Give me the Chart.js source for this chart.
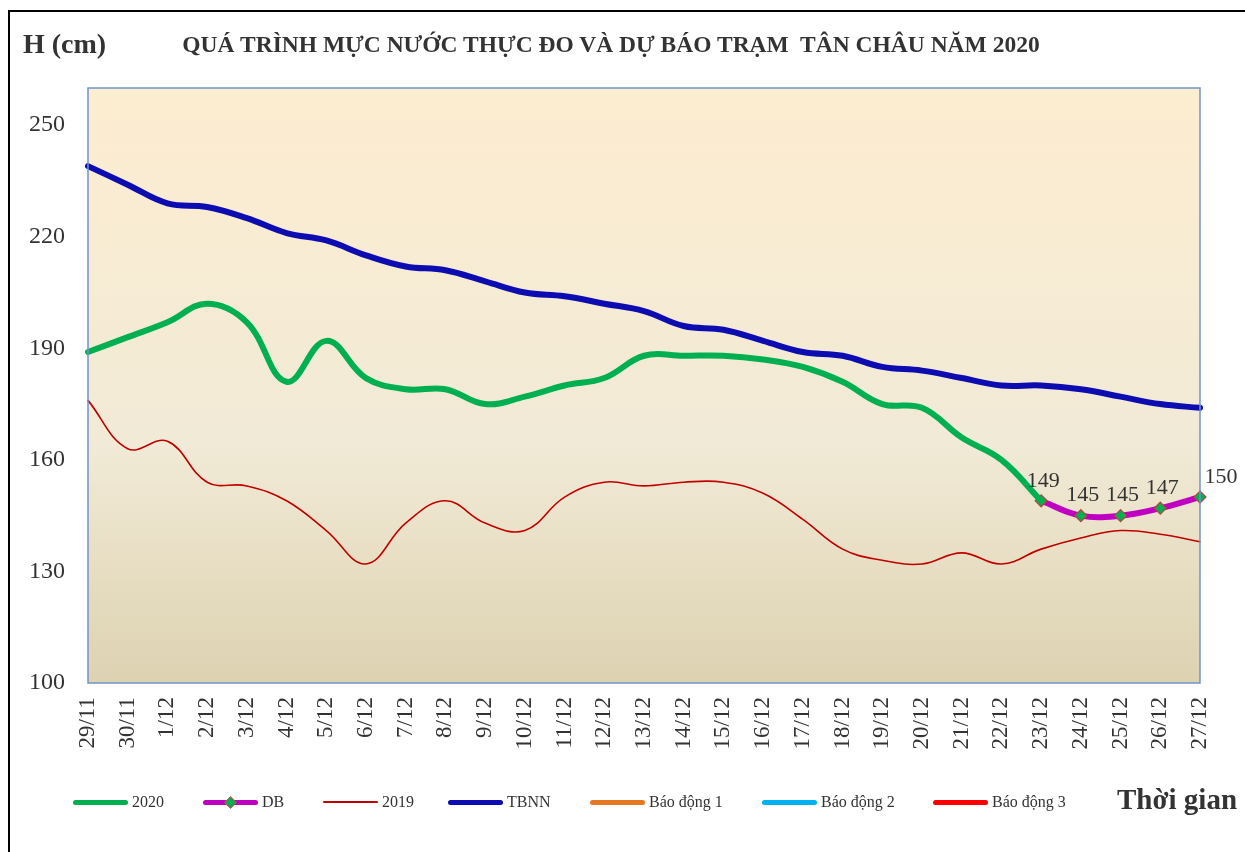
<!DOCTYPE html>
<html>
<head>
<meta charset="utf-8">
<script src="https://cdn.jsdelivr.net/npm/chart.js@4/dist/chart.umd.min.js"></script>
<style>
  body { margin: 0; background: #fff; width: 1245px; height: 852px; overflow: hidden; position: relative; font-family: 'Liberation Serif', 'Times New Roman', serif; color: #333; }
  .frame { position: absolute; left: 8px; top: 10px; width: 1400px; height: 1000px; border-left: 2px solid #000; border-top: 2px solid #000; }
  #chartBox { position: absolute; left: 0; top: 0; width: 1245px; height: 852px; }
  .unit { position: absolute; left: 23px; top: 28px; font-weight: bold; font-size: 28px; }
  .title { position: absolute; left: 0; width: 1222px; top: 31px; text-align: center; font-weight: bold; font-size: 23.5px; white-space: pre; }
  .xname { position: absolute; left: 1117px; top: 783px; font-weight: bold; font-size: 29px; }
  .legend { position: absolute; top: 791px; left: 0; height: 22px; }
  .item { position: absolute; top: 0; height: 22px; font-size: 16px; line-height: 22px; }
  .item .ln { position: absolute; left: 0; width: 55px; top: 9px; border-radius: 3px; }
  .item .mk { position: absolute; left: 23px; top: 7px; width: 7px; height: 7px; background: #00B050; border: 1px solid #C0504D; transform: rotate(45deg); }
  .item .tx { position: absolute; left: 59px; white-space: nowrap; }
</style>
</head>
<body>
<div class="frame"></div>
<div id="chartBox"><canvas id="chartTanChau"></canvas></div>
<div class="unit">H (cm)</div>
<div class="title">QUÁ TRÌNH MỰC NƯỚC THỰC ĐO VÀ DỰ BÁO TRẠM  TÂN CHÂU NĂM 2020</div>
<div class="legend" id="legend"></div>
<div class="xname">Thời gian</div>
<script>
// ngay quan trac
const dates = ['29/11', '30/11', '1/12', '2/12', '3/12', '4/12', '5/12', '6/12', '7/12', '8/12',
               '9/12', '10/12', '11/12', '12/12', '13/12', '14/12', '15/12', '16/12', '17/12', '18/12',
               '19/12', '20/12', '21/12', '22/12', '23/12', '24/12', '25/12', '26/12', '27/12']

// muc nuoc thuc do 2020
const h2020 = [189, 193, 197, 202, 197, 181, 192, 182, 179, 179,
               175, 177, 180, 182, 188, 188, 188, 187, 185, 181,
               175, 174, 166, 160, 149, null, null, null, null]
// du bao
const hForecast = [null, null, null, null, null, null, null, null, null, null,
                   null, null, null, null, null, null, null, null, null, null,
                   null, null, null, null, 149, 145, 145, 147, 150]
// nam 2019
const h2019 = [176, 163, 165, 154, 153, 149, 141, 132, 143, 149,
               143, 141, 150, 154, 153, 154, 154, 151, 144, 136,
               133, 132, 135, 132, 136, 139, 141, 140, 138]
// trung binh nhieu nam
const hTbnn = [239, 234, 229, 228, 225, 221, 219, 215, 212, 211,
               208, 205, 204, 202, 200, 196, 195, 192, 189, 188,
               185, 184, 182, 180, 180, 179, 177, 175, 174]
// bao dong (nam ngoai khung do thi)
const hAlarm1 = []
const hAlarm2 = []
const hAlarm3 = []

const yTicks = [100, 130, 160, 190, 220, 250]
const yMin = 100
const yMax = 260

const series = [
    { label: '2020', data: h2020, color: '#00B050', width: 6 },
    { label: 'DB', data: hForecast, color: '#C000C0', width: 6, marker: true },
    { label: '2019', data: h2019, color: '#C00000', width: 1.6 },
    { label: 'TBNN', data: hTbnn, color: '#0C0CB0', width: 6 },
    { label: 'Báo động 1', data: hAlarm1, color: '#E87722', width: 6 },
    { label: 'Báo động 2', data: hAlarm2, color: '#00B0F0', width: 6 },
    { label: 'Báo động 3', data: hAlarm3, color: '#FF0000', width: 6 }
]

// legend html
const legendX = [73, 203, 323, 448, 590, 762, 933]
const legend = document.getElementById('legend')
series.forEach((s, i) => {
    const el = document.createElement('div')
    el.className = 'item'
    el.style.left = legendX[i] + 'px'
    const h = s.width > 3 ? 5 : 2
    el.innerHTML = `<span class="ln" style="background:${s.color};height:${h}px;top:${11 - h / 2}px"></span>` +
        (s.marker ? '<span class="mk"></span>' : '') +
        `<span class="tx">${s.label}</span>`
    legend.appendChild(el)
})

// nen + khung vung ve
const plotBg = {
    id: 'plotBg',
    beforeDraw(chart) {
        const { ctx, chartArea: a } = chart
        const g = ctx.createLinearGradient(0, a.top, 0, a.bottom)
        g.addColorStop(0, '#FDEDD1')
        g.addColorStop(0.6, '#F1EAD6')
        g.addColorStop(1, '#DDD2B1')
        ctx.save()
        ctx.fillStyle = g
        ctx.fillRect(a.left, a.top, a.right - a.left, a.bottom - a.top)
        ctx.restore()
    },
    afterDraw(chart) {
        const { ctx, chartArea: a } = chart
        ctx.save()
        ctx.strokeStyle = '#6F95CC'
        ctx.lineWidth = 1.5
        ctx.strokeRect(a.left, a.top, a.right - a.left, a.bottom - a.top)
        ctx.restore()
    }
}

// nhan so lieu du bao
const forecastLabels = {
    id: 'forecastLabels',
    afterDatasetsDraw(chart) {
        const { ctx } = chart
        const meta = chart.getDatasetMeta(1)
        ctx.save()
        ctx.font = '22px "Liberation Serif", serif'
        ctx.fillStyle = '#333'
        ctx.textAlign = 'center'
        ctx.textBaseline = 'middle'
        meta.data.forEach((pt, i) => {
            const v = hForecast[i]
            if (v == null) return
            const last = i === hForecast.length - 1
            ctx.fillText(v, pt.x + (last ? 21 : 2), pt.y - 20)
        })
        ctx.restore()
    }
}

const ctx = document.getElementById('chartTanChau')
new Chart(ctx, {
    type: 'line',
    data: {
        labels: dates,
        datasets: series.map(s => ({
            label: s.label,
            data: s.data,
            borderColor: s.color,
            backgroundColor: s.color,
            borderWidth: s.width,
            borderCapStyle: 'round',
            borderJoinStyle: 'round',
            tension: 0.4,
            fill: false,
            pointRadius: s.marker ? 6 : 0,
            pointStyle: 'rectRot',
            pointBackgroundColor: '#00B050',
            pointBorderColor: '#B5473F',
            pointBorderWidth: 1.2,
            clip: 8
        }))
    },
    options: {
        responsive: true,
        maintainAspectRatio: false,
        animation: false,
        layout: { padding: { top: 88, right: 45, left: 0, bottom: 0 } },
        plugins: {
            legend: { display: false },
            tooltip: { enabled: false }
        },
        scales: {
            x: {
                offset: false,
                grid: { display: false, drawTicks: false },
                border: { display: false },
                ticks: {
                    autoSkip: false,
                    minRotation: 90,
                    maxRotation: 90,
                    padding: 14,
                    color: '#333',
                    font: { family: 'Liberation Serif', size: 23 }
                },
                afterFit(scale) { scale.height = 169 }
            },
            y: {
                min: yMin,
                max: yMax,
                grid: { display: false, drawTicks: false },
                border: { display: false },
                ticks: {
                    padding: 23,
                    color: '#333',
                    font: { family: 'Liberation Serif', size: 24 }
                },
                afterBuildTicks(scale) { scale.ticks = yTicks.map(v => ({ value: v })) },
                afterFit(scale) { scale.width = 88 }
            }
        }
    },
    plugins: [plotBg, forecastLabels]
})
</script>
</body>
</html>
